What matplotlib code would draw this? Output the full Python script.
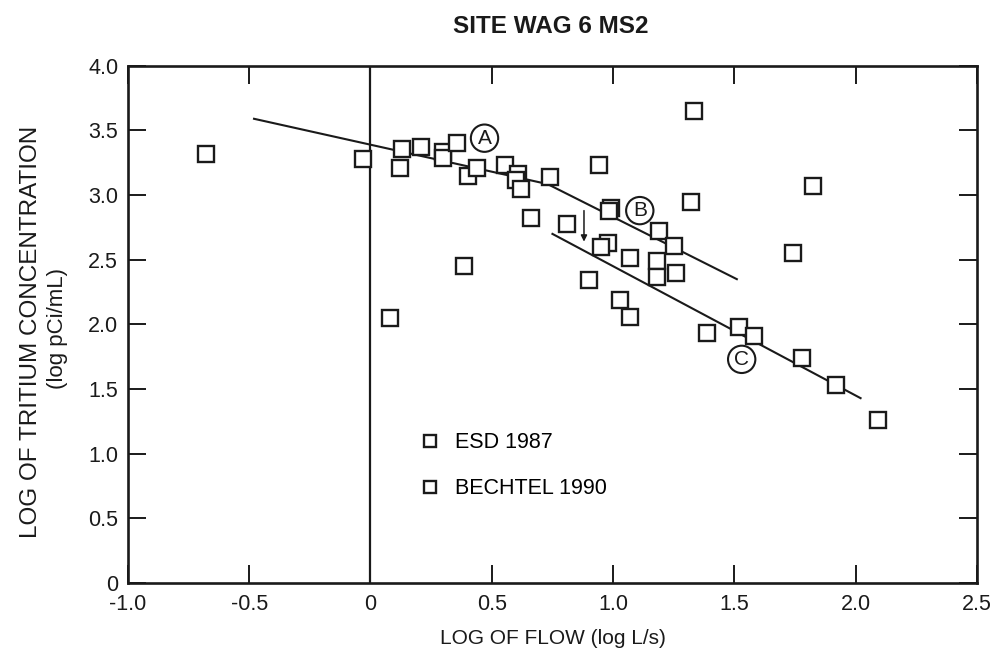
import matplotlib
matplotlib.use("Agg")
import matplotlib.pyplot as plt

# ---- data ----
esd_x = [-0.68, -0.03, 0.13, 0.12, 0.21, 0.30, 0.30, 0.355, 0.40, 0.44, 0.555, 0.61, 0.60,
         0.62, 0.74, 0.66, 0.81, 0.94, 0.99, 0.985, 1.335, 0.385, 0.08, 1.825]
esd_y = [3.32, 3.28, 3.36, 3.21, 3.37, 3.33, 3.29, 3.40, 3.15, 3.21, 3.23, 3.16, 3.12,
         3.05, 3.14, 2.82, 2.78, 3.23, 2.90, 2.88, 3.65, 2.45, 2.05, 3.07]

bechtel_x = [1.32, 1.19, 1.25, 0.98, 0.95, 1.07, 1.18, 1.18, 1.26, 0.90, 1.03, 1.07,
             1.74, 1.385, 1.52, 1.58, 1.78, 1.92, 2.09]
bechtel_y = [2.95, 2.72, 2.61, 2.63, 2.60, 2.51, 2.49, 2.37, 2.40, 2.34, 2.19, 2.06,
             2.55, 1.93, 1.98, 1.91, 1.74, 1.53, 1.26]

# trend lines
line_ab_x = [-0.48, 0.73, 1.51]
line_ab_y = [3.59, 3.085, 2.35]
line_c_x = [0.75, 2.02]
line_c_y = [2.70, 1.43]

labels = ["A", "B", "C"]
label_x = [0.47, 1.11, 1.53]
label_y = [3.44, 2.88, 1.73]

arrow_x = 0.88
arrow_y_start, arrow_y_end = 2.88, 2.64

xticks = [-1.0, -0.5, 0, 0.5, 1.0, 1.5, 2.0, 2.5]
xtick_labels = ["-1.0", "-0.5", "0", "0.5", "1.0", "1.5", "2.0", "2.5"]
yticks = [0, 0.5, 1.0, 1.5, 2.0, 2.5, 3.0, 3.5, 4.0]
ytick_labels = ["0", "0.5", "1.0", "1.5", "2.0", "2.5", "3.0", "3.5", "4.0"]

plt.rcParams['font.family'] = ['Liberation Sans', 'DejaVu Sans']
INK = '#1a1a1a'

fig = plt.figure(figsize=(9.99, 6.71), dpi=100)
ax = fig.add_axes([0.128, 0.131, 0.850, 0.771])

mk = dict(marker='s', markersize=11.5, markerfacecolor='white', markeredgecolor=INK,
          markeredgewidth=1.7, linestyle='none')
ax.plot(line_ab_x, line_ab_y, color=INK, lw=1.5, zorder=2)
ax.plot(line_c_x, line_c_y, color=INK, lw=1.5, zorder=2)
ax.axvline(0, color=INK, lw=1.6, zorder=1)
h1, = ax.plot(esd_x, esd_y, label='ESD 1987', zorder=3, **mk)
h2, = ax.plot(bechtel_x, bechtel_y, label='BECHTEL 1990', zorder=3, **mk)

for t, x, y in zip(labels, label_x, label_y):
    ax.text(x, y, t, ha='center', va='center', fontsize=15, color=INK, zorder=4,
            bbox=dict(boxstyle='circle,pad=0.2', facecolor='white', edgecolor=INK, lw=1.5))

ax.annotate('', xy=(arrow_x, arrow_y_end), xytext=(arrow_x, arrow_y_start),
            arrowprops=dict(arrowstyle='-|>', color=INK, lw=1.1, mutation_scale=9,
                            shrinkA=0, shrinkB=0))

leg = ax.legend(handles=[h1, h2], loc='upper left', bbox_to_anchor=(0.332, 0.312),
                frameon=False, fontsize=15.5, markerscale=0.8, handlelength=0.9,
                handletextpad=0.7, labelspacing=1.15, borderpad=0)

ax.set_xlim(-1.0, 2.5)
ax.set_ylim(0, 4.0)
ax.set_xticks(xticks)
ax.set_xticklabels(xtick_labels)
ax.set_yticks(yticks)
ax.set_yticklabels(ytick_labels)
ax.tick_params(direction='in', length=13, width=1.4, top=True, right=True,
               labelsize=15.5, colors=INK)
ax.tick_params(axis='x', pad=8)
ax.tick_params(axis='y', pad=7)
for s in ax.spines.values():
    s.set_linewidth(1.9)
    s.set_color(INK)

ax.set_xlabel('LOG OF FLOW (log L/s)', fontsize=15, labelpad=10, color=INK)
fig.text(0.031, 0.505, 'LOG OF TRITIUM CONCENTRATION', rotation=90, ha='center', va='center',
         fontsize=17.5, color=INK)
fig.text(0.058, 0.511, '(log pCi/mL)', rotation=90, ha='center', va='center',
         fontsize=16, color=INK)
fig.text(0.551, 0.960, 'SITE WAG 6 MS2', ha='center', va='center',
         fontsize=17.5, fontweight='bold', color=INK)

fig.savefig('out.png', dpi=100)
